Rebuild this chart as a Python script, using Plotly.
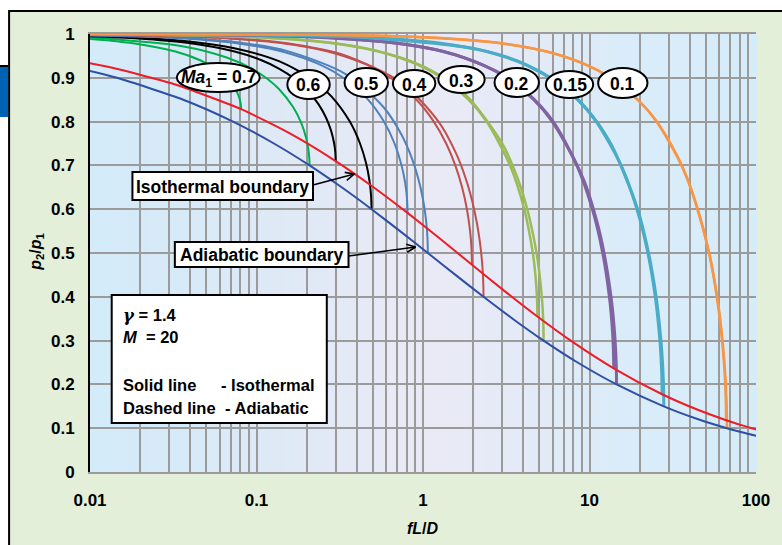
import math
import plotly.graph_objects as go

# ---------------- data ----------------
x_tick_vals = [0.01, 0.1, 1, 10, 100]
x_tick_text = ["0.01", "0.1", "1", "10", "100"]
y_tick_vals = [0, 0.1, 0.2, 0.3, 0.4, 0.5, 0.6, 0.7, 0.8, 0.9, 1]
y_tick_text = ["0", "0.1", "0.2", "0.3", "0.4", "0.5", "0.6", "0.7", "0.8", "0.9", "1"]

mach_labels = ["<i>Ma</i><sub>1</sub> = 0.7", "0.6", "0.5", "0.4", "0.3", "0.2", "0.15", "0.1"]

# Ma1 = 0.7
iso_07_x = [0.0089, 0.0132, 0.0173, 0.0326, 0.0459, 0.0571, 0.0662, 0.0732, 0.0779, 0.0800, 0.0807, 0.0808]
iso_07_y = [0.99, 0.985, 0.98, 0.96, 0.94, 0.92, 0.90, 0.88, 0.86, 0.845, 0.835, 0.828]
adi_07_x = [0.0093, 0.0358, 0.0669, 0.0937, 0.1165, 0.1359, 0.1659, 0.1864, 0.1992, 0.2049, 0.2077, 0.2081]
adi_07_y = [0.9929, 0.9722, 0.9459, 0.9211, 0.8974, 0.875, 0.8333, 0.7955, 0.7609, 0.7368, 0.7143, 0.70]
# Ma1 = 0.6
iso_06_x = [0.0098, 0.0194, 0.0382, 0.0739, 0.1072, 0.1380, 0.1663, 0.2038, 0.2354, 0.2609, 0.2801, 0.2927, 0.2974, 0.2989]
iso_06_y = [0.995, 0.99, 0.98, 0.96, 0.94, 0.92, 0.90, 0.87, 0.84, 0.81, 0.78, 0.75, 0.73, 0.71]
adi_06_x = [0.0098, 0.0194, 0.0381, 0.0736, 0.1375, 0.2179, 0.2827, 0.3635, 0.4185, 0.4545, 0.4763, 0.4876, 0.4908]
adi_06_y = [0.9959, 0.9917, 0.9836, 0.9677, 0.9375, 0.8955, 0.8571, 0.80, 0.75, 0.7059, 0.6667, 0.6316, 0.60]
# Ma1 = 0.5
iso_05_x = [0.0093, 0.0185, 0.0368, 0.0727, 0.1424, 0.2409, 0.3321, 0.4678, 0.5823, 0.6746, 0.7438, 0.7815, 0.7991, 0.8054, 0.8073]
iso_05_y = [0.9975, 0.995, 0.99, 0.98, 0.96, 0.93, 0.90, 0.85, 0.80, 0.75, 0.70, 0.66, 0.63, 0.61, 0.5916]
adi_05_x = [0.0082, 0.0401, 0.0787, 0.1517, 0.3410, 0.5783, 0.7445, 0.8609, 0.9418, 0.9968, 1.0328, 1.0546, 1.0658, 1.0691]
adi_05_y = [0.998, 0.9901, 0.9804, 0.9615, 0.9091, 0.8333, 0.7692, 0.7143, 0.6667, 0.625, 0.5882, 0.5556, 0.5263, 0.50]
# Ma1 = 0.4
iso_04_x = [0.0097, 0.0138, 0.0345, 0.0687, 0.1364, 0.2684, 0.4580, 0.6375, 0.9138, 1.1609, 1.3778, 1.5634, 1.7166, 1.8355, 1.9182, 1.9564, 1.9681]
iso_04_y = [0.9986, 0.998, 0.995, 0.99, 0.98, 0.96, 0.93, 0.90, 0.85, 0.80, 0.75, 0.70, 0.65, 0.60, 0.55, 0.51, 0.4733]
adi_04_x = [0.0091, 0.0182, 0.0889, 0.1741, 0.3341, 0.7420, 1.2394, 1.5804, 1.8177, 1.9839, 2.1004, 2.1812, 2.2362, 2.2722, 2.2940, 2.3052, 2.3085]
adi_04_y = [0.99875, 0.9975, 0.9877, 0.9756, 0.9524, 0.8889, 0.80, 0.7273, 0.6667, 0.6154, 0.5714, 0.5333, 0.50, 0.4706, 0.4444, 0.4211, 0.40]
# Ma1 = 0.3
iso_03_x = [0.0069, 0.0139, 0.0277, 0.0691, 0.1378, 0.2739, 0.5406, 0.9271, 1.2972, 1.8773, 2.4109, 3.3343, 4.0577, 4.5661, 4.7324, 4.8341, 4.8615, 4.8651]
iso_03_y = [0.9995, 0.999, 0.998, 0.995, 0.99, 0.98, 0.96, 0.93, 0.90, 0.85, 0.80, 0.70, 0.60, 0.50, 0.45, 0.40, 0.37, 0.355]
adi_03_x = [0.0094, 0.0471, 0.2302, 0.4486, 0.8525, 1.2172, 1.8468, 2.9908, 3.7328, 4.2302, 4.8084, 5.0911, 5.2270, 5.2847, 5.2993]
adi_03_y = [0.9993, 0.9967, 0.9836, 0.9677, 0.9375, 0.9091, 0.8571, 0.75, 0.6667, 0.60, 0.50, 0.4286, 0.375, 0.3333, 0.30]
# Ma1 = 0.2
iso_02_x = [0.0084, 0.0169, 0.0337, 0.0674, 0.1681, 0.3353, 0.6667, 1.3184, 2.2674, 3.1821, 4.6303, 5.9823, 8.3938, 10.4069, 12.0066, 13.1674, 13.6952, 13.9112, 13.9685, 13.9747]
iso_02_y = [0.99975, 0.9995, 0.999, 0.998, 0.995, 0.99, 0.98, 0.96, 0.93, 0.90, 0.85, 0.80, 0.70, 0.60, 0.50, 0.40, 0.33, 0.28, 0.25, 0.2366]
adi_02_x = [0.0085, 0.1685, 0.8185, 1.5772, 2.9371, 4.1172, 6.0499, 9.2340, 11.0808, 12.2248, 13.4642, 14.0424, 14.3251, 14.4610, 14.5188, 14.5333]
adi_02_y = [0.99975, 0.9950, 0.9756, 0.9524, 0.9091, 0.8696, 0.80, 0.6667, 0.5714, 0.50, 0.40, 0.3333, 0.2857, 0.25, 0.2222, 0.20]
# Ma1 = 0.15
iso_015_x = [0.0077, 0.0123, 0.0307, 0.0615, 0.1229, 0.3066, 0.6116, 1.2167, 2.4072, 4.1437, 5.8210, 8.4845, 10.9823, 15.4771, 19.2958, 22.4232, 24.8341, 26.4809, 27.0632, 27.2573, 27.2882]
iso_015_y = [0.99987, 0.9998, 0.9995, 0.999, 0.998, 0.995, 0.99, 0.98, 0.96, 0.93, 0.90, 0.85, 0.80, 0.70, 0.60, 0.50, 0.40, 0.30, 0.24, 0.20, 0.1775]
adi_015_x = [0.0082, 0.0822, 0.2050, 0.4075, 1.9592, 3.7342, 6.8168, 9.3893, 13.3987, 19.4486, 22.6327, 24.4795, 25.6235, 26.8629, 27.4411, 27.7238, 27.8597, 27.9175, 27.9320]
adi_015_y = [0.99987, 0.99867, 0.99668, 0.99338, 0.9677, 0.9375, 0.8824, 0.8333, 0.75, 0.60, 0.50, 0.4286, 0.375, 0.30, 0.25, 0.2143, 0.1875, 0.1667, 0.15]
# Ma1 = 0.1
iso_01_x = [0.0070, 0.0141, 0.0282, 0.0704, 0.1408, 0.2814, 0.7025, 1.4013, 2.7882, 5.5184, 9.5049, 13.3607, 19.4964, 25.2680, 35.7152, 44.6926, 52.1851, 58.1674, 62.5921, 64.9432, 65.9348, 66.1599]
iso_01_y = [0.99995, 0.9999, 0.9998, 0.9995, 0.999, 0.998, 0.995, 0.99, 0.98, 0.96, 0.93, 0.90, 0.85, 0.80, 0.70, 0.60, 0.50, 0.40, 0.30, 0.22, 0.16, 0.1183]
adi_01_x = [0.0071, 0.0282, 0.1411, 0.7003, 2.7398, 6.5573, 12.2337, 21.5136, 28.7145, 38.9896, 52.3883, 58.4382, 61.6223, 64.6131, 65.8525, 66.4307, 66.7134, 66.8493, 66.9216]
adi_01_y = [0.99995, 0.9998, 0.9990, 0.99502, 0.9804, 0.9524, 0.9091, 0.8333, 0.7692, 0.6667, 0.50, 0.40, 0.3333, 0.25, 0.20, 0.1667, 0.1429, 0.125, 0.10]

# boundaries
iso_bound_x = [0.0078, 0.0095, 0.0136, 0.0309, 0.0808, 0.1655, 0.2989, 0.5021, 0.8073, 1.2668, 1.9681, 3.0677, 4.8651, 7.9925, 13.9747, 27.2882, 44.699, 66.160, 82.704, 100.56]
iso_bound_y = [0.9407, 0.9347, 0.9229, 0.8874, 0.8283, 0.7691, 0.7099, 0.6508, 0.5916, 0.5325, 0.4733, 0.4141, 0.3550, 0.2958, 0.2366, 0.1775, 0.1420, 0.1183, 0.1065, 0.0970]
adi_bound_x = [0.0048, 0.00891, 0.01451, 0.03632, 0.07229, 0.12728, 0.20814, 0.3246, 0.49083, 0.72805, 1.06908, 1.56649, 2.30849, 3.45245, 5.29925, 8.48341, 14.53327, 27.93197, 45.40795, 66.92157, 83.49603, 101.3826]
adi_bound_y = [0.94, 0.92, 0.90, 0.85, 0.80, 0.75, 0.70, 0.65, 0.60, 0.55, 0.50, 0.45, 0.40, 0.35, 0.30, 0.25, 0.20, 0.15, 0.12, 0.10, 0.09, 0.082]

# ---------------- styling ----------------
FONT = "Liberation Sans, Arial, Helvetica, sans-serif"
W, H = 782, 545
PL, PR, PT, PB = 90, 765, 34, 472


def px(x):
    return (x - PL) / (PR - PL)


def py(y):
    return (PB - y) / (PB - PT)


curves = [
    (iso_07_x, iso_07_y, adi_07_x, adi_07_y, "#00B050", 2),
    (iso_06_x, iso_06_y, adi_06_x, adi_06_y, "#000000", 2),
    (iso_05_x, iso_05_y, adi_05_x, adi_05_y, "#4F81BD", 2),
    (iso_04_x, iso_04_y, adi_04_x, adi_04_y, "#C0504D", 2),
    (iso_03_x, iso_03_y, adi_03_x, adi_03_y, "#9BBB59", 2.5),
    (iso_02_x, iso_02_y, adi_02_x, adi_02_y, "#8064A2", 3),
    (iso_015_x, iso_015_y, adi_015_x, adi_015_y, "#4BACC6", 3),
    (iso_01_x, iso_01_y, adi_01_x, adi_01_y, "#F79646", 2.5),
]

fig = go.Figure()
for ix, iy, ax_, ay_, col, lw in curves:
    for xs, ys in ((ix, iy), (ax_, ay_)):
        fig.add_trace(go.Scatter(x=xs, y=ys, mode="lines",
                                 line=dict(color=col, width=lw, shape="spline", smoothing=0.8),
                                 hoverinfo="skip", showlegend=False))

fig.add_trace(go.Scatter(x=iso_bound_x, y=iso_bound_y, mode="lines",
                         line=dict(color="#EE1C25", width=2, shape="spline", smoothing=0.6),
                         hoverinfo="skip", showlegend=False))
fig.add_trace(go.Scatter(x=adi_bound_x, y=adi_bound_y, mode="lines",
                         line=dict(color="#2E4FA3", width=2, shape="spline", smoothing=0.6),
                         hoverinfo="skip", showlegend=False))

shapes = []
# outer green frame
shapes.append(dict(type="rect", xref="paper", yref="paper", layer="below",
                   x0=px(8), x1=px(800), y0=py(560), y1=py(11),
                   fillcolor="#E3EFD9", line=dict(color="#000000", width=2)))
# blue tab on the left edge
shapes.append(dict(type="rect", xref="paper", yref="paper", layer="below",
                   x0=px(-5), x1=px(7), y0=py(117), y1=py(67),
                   fillcolor="#0062B3", line=dict(width=0)))
shapes.append(dict(type="line", xref="paper", yref="paper", layer="below",
                   x0=px(-5), x1=px(7), y0=py(66), y1=py(66),
                   line=dict(color="#000000", width=2)))

# plot-area background gradient
stops = [(0.0, (212, 235, 249)), (0.12, (214, 234, 248)), (0.3, (224, 233, 246)),
         (0.5, (234, 234, 246)), (0.65, (228, 234, 247)), (0.8, (218, 236, 249)), (1.0, (214, 236, 249))]


def col_at(t):
    for (t0, c0), (t1, c1) in zip(stops[:-1], stops[1:]):
        if t0 <= t <= t1:
            f = (t - t0) / (t1 - t0)
            return "rgb(%d,%d,%d)" % tuple(round(a + (b - a) * f) for a, b in zip(c0, c1))
    return "rgb(%d,%d,%d)" % stops[-1][1]


N = 90
for i in range(N):
    t0, t1 = i / N, (i + 1) / N
    shapes.append(dict(type="rect", xref="paper", yref="paper", layer="below",
                       x0=t0, x1=t1 + 0.002, y0=0, y1=1,
                       fillcolor=col_at((t0 + t1) / 2), line=dict(width=0)))

# ellipses around Mach labels
ellipses = [(178, 262, 63, 92), (290, 333, 70, 99), (348, 392, 68, 97), (397, 440, 70, 97),
            (443, 490, 66, 93), (500, 545, 68, 97), (552, 600, 71, 98), (605, 655, 68, 98)]
for x0, x1, y0, y1 in ellipses:
    shapes.append(dict(type="circle", xref="paper", yref="paper", layer="above",
                       x0=px(x0), x1=px(x1), y0=py(y1), y1=py(y0),
                       fillcolor="#FFFFFF", line=dict(color="#000000", width=2)))

# text boxes
boxes = [(133, 316, 172, 200), (176, 352, 242, 267), (112, 330, 295, 423)]
for x0, x1, y0, y1 in boxes:
    shapes.append(dict(type="rect", xref="paper", yref="paper", layer="above",
                       x0=px(x0), x1=px(x1), y0=py(y1), y1=py(y0),
                       fillcolor="#FFFFFF", line=dict(color="#000000", width=2)))


# arrows (drawn as line shapes with an open chevron head)
def arrow(xt, yt, xh, yh, head=10, spread=0.42):
    out = [dict(type="line", xref="paper", yref="paper", layer="above",
                x0=px(xt), y0=py(yt), x1=px(xh), y1=py(yh), line=dict(color="#000", width=1.6))]
    ang = math.atan2(yt - yh, xt - xh)
    for s in (-spread, spread):
        a = ang + s
        out.append(dict(type="line", xref="paper", yref="paper", layer="above",
                        x0=px(xh), y0=py(yh), x1=px(xh + head * math.cos(a)), y1=py(yh + head * math.sin(a)),
                        line=dict(color="#000", width=1.6)))
    return out


shapes += arrow(316, 185, 358, 174)
shapes += arrow(352, 256, 420, 247)

ann = []
for (x0, x1, y0, y1), txt in zip(ellipses, mach_labels):
    ann.append(dict(xref="paper", yref="paper", x=px((x0 + x1) / 2), y=py((y0 + y1) / 2 + 1),
                    text=txt, showarrow=False, xanchor="center", yanchor="middle",
                    font=dict(family=FONT, size=17.5, color="#000", weight="bold")))

ann.append(dict(xref="paper", yref="paper", x=px(224.5), y=py(186.5), text="Isothermal boundary",
                showarrow=False, xanchor="center", yanchor="middle",
                font=dict(family=FONT, size=17.5, color="#000", weight="bold")))
ann.append(dict(xref="paper", yref="paper", x=px(264), y=py(255), text="Adiabatic boundary",
                showarrow=False, xanchor="center", yanchor="middle",
                font=dict(family=FONT, size=17.5, color="#000", weight="bold")))

info_font = dict(family=FONT, size=16.5, color="#000", weight="bold")
info_lines = [
    (121, 315, "<span style=\"font-family:'DejaVu Serif'\"><i>γ</i></span> = 1.4"),
    (121, 337, "<i>M</i>\u00a0 = 20"),
    (121, 385, "Solid line"),
    (221, 385, "- Isothermal"),
    (121, 408, "Dashed line"),
    (225, 408, "- Adiabatic"),
]
for x, y, t in info_lines:
    ann.append(dict(xref="paper", yref="paper", x=px(x), y=py(y), text=t, showarrow=False,
                    xanchor="left", yanchor="middle", font=info_font))

# axis titles
ann.append(dict(xref="paper", yref="paper", x=px(428), y=py(528), text="<i>fL</i>/<i>D</i>",
                showarrow=False, xanchor="center", yanchor="middle",
                font=dict(family=FONT, size=16, color="#000", weight="bold")))
ann.append(dict(xref="paper", yref="paper", x=px(35), y=py(252),
                text="<i>p</i><sub>2</sub>/<i>p</i><sub>1</sub>", textangle=-90,
                showarrow=False, xanchor="center", yanchor="middle",
                font=dict(family=FONT, size=16, color="#000", weight="bold")))

minor_vals = [m * 10.0 ** e for e in range(-2, 2) for m in range(2, 10)]
GRID = "#9B9B9B"
TICKFONT = dict(family=FONT, size=17, color="#000", weight="bold")

fig.update_layout(
    width=W, height=H, autosize=False,
    margin=dict(l=PL, r=W - PR, t=PT, b=H - PB, pad=0),
    paper_bgcolor="#FFFFFF", plot_bgcolor="rgba(0,0,0,0)",
    showlegend=False, shapes=shapes, annotations=ann,
    xaxis=dict(type="log", range=[-2, 2], tickmode="array", tickvals=x_tick_vals, ticktext=x_tick_text,
               showgrid=True, gridcolor=GRID, gridwidth=2, zeroline=False,
               showline=True, linecolor=GRID, linewidth=2, mirror=True, ticks="",
               ticklabelstandoff=12,
               minor=dict(tickmode="array", tickvals=minor_vals, showgrid=True, gridcolor=GRID, gridwidth=2, ticks=""),
               tickfont=TICKFONT),
    yaxis=dict(range=[0, 1], tickmode="array", tickvals=y_tick_vals, ticktext=y_tick_text,
               showgrid=True, gridcolor=GRID, gridwidth=2, zeroline=False,
               showline=True, linecolor="#000000", linewidth=2, mirror=False, ticks="",
               ticklabelstandoff=10,
               tickfont=TICKFONT),
)

fig.write_html("out.html", config={"displayModeBar": False},
               post_script="document.body.style.margin='0';document.body.style.overflow='hidden';")
